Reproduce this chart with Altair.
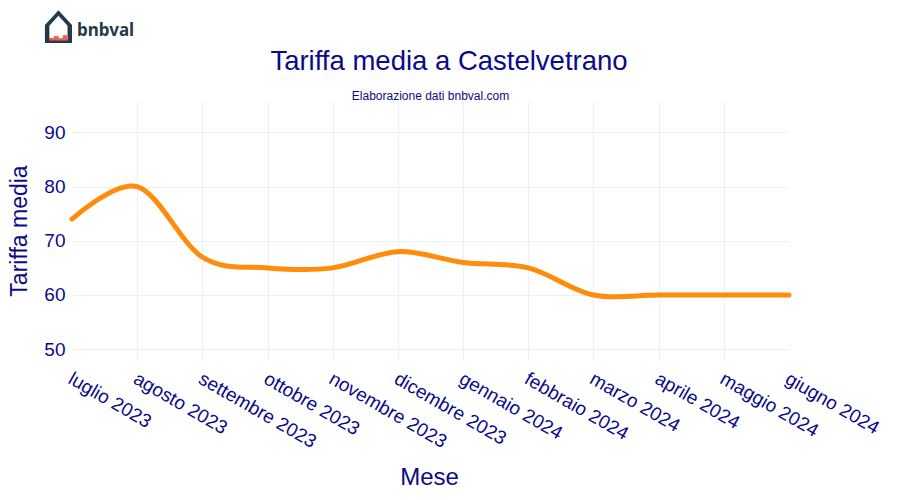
import altair as alt
import pandas as pd

mesi = ["luglio 2023", "agosto 2023", "settembre 2023", "ottobre 2023",
        "novembre 2023", "dicembre 2023", "gennaio 2024", "febbraio 2024",
        "marzo 2024", "aprile 2024", "maggio 2024", "giugno 2024"]
tariffa = [74, 80, 67, 65, 65, 68, 66, 65, 60, 60, 60, 60]
y_ticks = [50, 60, 70, 80, 90]

titolo = "Tariffa media a Castelvetrano"
sottotitolo = "Elaborazione dati bnbval.com"
logo = "bnbval"

df = pd.DataFrame({"Mese": mesi, "Tariffa media": tariffa})

FONT = "Liberation Sans"
NAVY = "#0a0a8a"
GRID = "#ebf0f8"
W, H = 717, 259

edge_test = f"datum.value == '{mesi[0]}' || datum.value == '{mesi[-1]}'"

base = alt.Chart(df)

line = base.mark_line(
    color="#ff8c0a", strokeWidth=5, interpolate="cardinal", strokeCap="round"
).encode(
    x=alt.X("Mese:N", sort=mesi,
            scale=alt.Scale(type="point", padding=0),
            axis=alt.Axis(title="Mese", labelAngle=30, labelAlign="left",
                          labelBaseline="top", labelPadding=9, labelOffset=2,
                          labelFontSize=19, labelColor=NAVY, labelFont=FONT,
                          titleFontSize=24, titleColor=NAVY, titleFont=FONT,
                          titleFontWeight="normal", titleX=357, titleY=124,
                          titleBaseline="alphabetic", titleAlign="center",
                          grid=True, gridColor=GRID,
                          gridOpacity={"condition": {"test": edge_test, "value": 0}, "value": 1},
                          domain=False, ticks=False, labelOverlap=False)),
    y=alt.Y("Tariffa media:Q",
            scale=alt.Scale(domain=[48, 95.8], nice=False, zero=False),
            axis=alt.Axis(title="Tariffa media", values=y_ticks,
                          labelFontSize=19, labelColor=NAVY, labelFont=FONT,
                          labelPadding=7,
                          titleFontSize=23, titleColor=NAVY, titleFont=FONT,
                          titleFontWeight="normal", titleX=-46, titleY=129.5,
                          titleAngle=270, titleBaseline="alphabetic",
                          titleAlign="center",
                          grid=True, gridColor=GRID, domain=False,
                          ticks=False)),
)

title_mark = alt.Chart(pd.DataFrame({"t": [titolo]})).mark_text(
    font=FONT, fontSize=27.5, color=NAVY, align="center", baseline="alphabetic"
).encode(text="t:N", x=alt.value(377), y=alt.value(-31.5))

sub_mark = alt.Chart(pd.DataFrame({"t": [sottotitolo]})).mark_text(
    font=FONT, fontSize=12, color=NAVY, align="center", baseline="alphabetic"
).encode(text="t:N", x=alt.value(358.5), y=alt.value(-1))

logo_mark = alt.Chart(pd.DataFrame({"t": [logo]})).mark_text(
    font="Noto Sans", fontSize=17, fontWeight="bold", color="#1f3b4d",
    align="left", baseline="alphabetic"
).encode(text="t:N", x=alt.value(5), y=alt.value(-65))

house_mark = alt.Chart(pd.DataFrame({"t": ["\u2302"]})).mark_text(
    font="DejaVu Sans", fontSize=55, color="#1f3b4d",
    align="center", baseline="alphabetic"
).encode(text="t:N", x=alt.value(-13.5), y=alt.value(-58))

bars_mark = alt.Chart(pd.DataFrame({"t": ["\u2583\u2585\u2582\u2586"]})).mark_text(
    font="DejaVu Sans", fontSize=6, color="#f0624f",
    align="center", baseline="alphabetic"
).encode(text="t:N", x=alt.value(-13.5), y=alt.value(-62))

chart = alt.layer(line, title_mark, sub_mark, logo_mark, house_mark, bars_mark).properties(
    width=W, height=H,
    background="white",
    autosize=alt.AutoSizeParams(type="none"),
    padding={"left": 64, "top": 93, "right": 100, "bottom": 130},
).configure_view(stroke=None)

chart.save("out.html", embed_options={"renderer": "svg", "actions": False})
